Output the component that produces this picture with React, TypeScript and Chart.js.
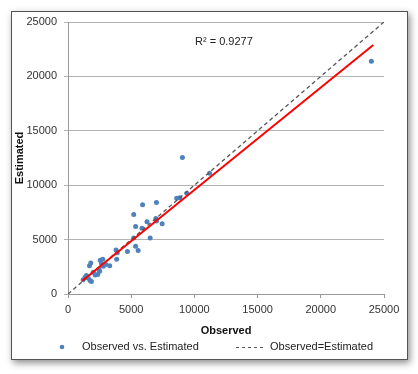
import React, { useEffect, useRef } from "react";
import { Chart, registerables } from "chart.js";

Chart.register(...registerables);

const observed = [1200, 1350, 1450, 1600, 1750, 1850, 1700, 1800, 2000, 2150, 2350, 2450, 2500, 2550, 2750, 2800, 2650, 3000, 3300, 3850, 3800, 3900, 4700, 5200, 5350, 5550, 5200, 5350, 5850, 5900, 6250, 6500, 6950, 7000, 7000, 7450, 8600, 8850, 9400, 9050, 11200, 24000];
const estimated = [1300, 1550, 1700, 1450, 1250, 1150, 2600, 2850, 2000, 1750, 1800, 2300, 2100, 3100, 3200, 2550, 2800, 2700, 2600, 3200, 4050, 3800, 3900, 5150, 4400, 4000, 7300, 6200, 6050, 8200, 6650, 5150, 6950, 6700, 8400, 6450, 8800, 8850, 9250, 12550, 11100, 21400];
const trendX = [1130, 24150];
const trendY = [1220, 22880];
const identityX = [0, 25000];
const identityY = [0, 25000];
const rSquaredLabel = "R\u00B2 = 0.9277";
const legendLabels = ["Observed vs. Estimated", "Observed=Estimated"];
const axisMax = 25000;
const axisStep = 5000;

const FONT = "'Liberation Sans', Arial, sans-serif";

export default function App() {
  const ref = useRef<HTMLCanvasElement | null>(null);
  useEffect(() => {
    if (!ref.current) return;
    const overlay = {
      id: "overlay",
      afterDraw(chart: any) {
        const ctx = chart.ctx;
        ctx.save();
        ctx.font = `11px ${FONT}`;
        ctx.fillStyle = "#222";
        ctx.textBaseline = "middle";
        ctx.textAlign = "left";
        ctx.fillText(rSquaredLabel, 195, 42);
        // legend
        const ly = 347;
        ctx.fillStyle = "#4f81bd";
        ctx.beginPath();
        ctx.arc(62, ly, 2.3, 0, Math.PI * 2);
        ctx.fill();
        ctx.fillStyle = "#222";
        ctx.fillText(legendLabels[0], 82, ly);
        ctx.strokeStyle = "#555";
        ctx.lineWidth = 1;
        ctx.setLineDash([3, 3]);
        ctx.beginPath();
        ctx.moveTo(236, ly + 0.5);
        ctx.lineTo(266, ly + 0.5);
        ctx.stroke();
        ctx.setLineDash([]);
        ctx.fillText(legendLabels[1], 270, ly);
        ctx.restore();
      },
    };
    const plain = (v: any) => String(v);
    const chart = new Chart(ref.current, {
      type: "scatter",
      data: {
        datasets: [
          {
            label: legendLabels[0],
            data: observed.map((x, i) => ({ x, y: estimated[i] })),
            backgroundColor: "#4f81bd",
            borderColor: "#4f81bd",
            pointRadius: 2.5,
            pointBorderWidth: 0,
            order: 3,
          },
          {
            label: legendLabels[1],
            data: identityX.map((x, i) => ({ x, y: identityY[i] })),
            showLine: true,
            borderColor: "#555",
            borderWidth: 1.3,
            borderDash: [4, 3],
            pointRadius: 0,
            order: 2,
          },
          {
            label: "Trend",
            data: trendX.map((x, i) => ({ x, y: trendY[i] })),
            showLine: true,
            borderColor: "#ff0000",
            borderWidth: 2,
            pointRadius: 0,
            order: 1,
          },
        ],
      },
      options: {
        animation: false,
        responsive: false,
        layout: { padding: { left: 12, right: 34, top: 22, bottom: 36 } },
        plugins: { legend: { display: false }, tooltip: { enabled: false } },
        scales: {
          x: {
            type: "linear",
            min: 0,
            max: axisMax,
            afterFit: (s: any) => {
              s.height = 44;
            },
            ticks: {
              stepSize: axisStep,
              callback: plain,
              color: "#333",
              padding: 5,
              font: { family: FONT, size: 11 },
              maxRotation: 0,
            },
            grid: {
              drawOnChartArea: false,
              drawTicks: true,
              tickLength: 4,
              color: "#999",
            },
            border: { color: "#999" },
            title: {
              display: true,
              text: "Observed",
              color: "#111",
              font: { family: FONT, size: 11, weight: "bold" },
              padding: { top: 0, bottom: 0 },
            },
          },
          y: {
            type: "linear",
            min: 0,
            max: axisMax,
            afterFit: (s: any) => {
              s.width = 56;
            },
            ticks: {
              stepSize: axisStep,
              callback: plain,
              color: "#333",
              padding: 7,
              font: { family: FONT, size: 11 },
            },
            grid: {
              drawOnChartArea: true,
              drawTicks: true,
              tickLength: 4,
              color: "#b3b3b3",
            },
            border: { color: "#999" },
            title: {
              display: true,
              text: "Estimated",
              color: "#111",
              font: { family: FONT, size: 11, weight: "bold" },
              padding: { top: 1, bottom: 0 },
            },
          },
        },
      },
      plugins: [overlay],
    } as any);
    return () => chart.destroy();
  }, []);
  return (
    <div style={{ position: "fixed", left: 0, top: 0, width: 418, height: 374, background: "#fff" }}>
      <div
        style={{
          position: "absolute",
          left: 11,
          top: 11,
          width: 397,
          height: 349,
          boxSizing: "border-box",
          border: "1px solid #555",
          background: "#fff",
          boxShadow: "2px 3px 7px rgba(0,0,0,0.45)",
        }}
      />
      <canvas ref={ref} width={418} height={374} style={{ position: "absolute", left: 0, top: 0, width: 418, height: 374 }} />
    </div>
  );
}
